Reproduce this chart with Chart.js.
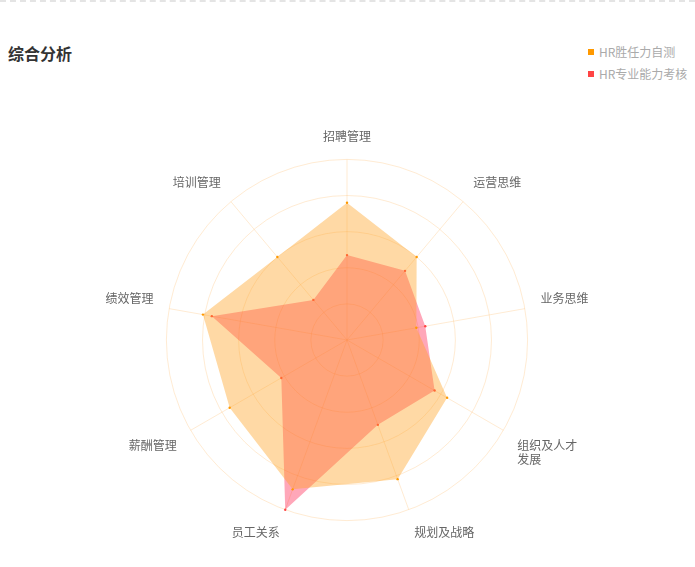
<!DOCTYPE html>
<html>
<head>
<meta charset="utf-8">
<script src="https://cdn.jsdelivr.net/npm/chart.js@4/dist/chart.umd.min.js"></script>
<style>
  body { margin: 0; background: #fff; font-family: "Noto Sans CJK SC", sans-serif; }
  .wrap { position: relative; width: 695px; height: 567px; border-top: 2px dashed #e4e4e4; box-sizing: border-box; }
  .title { position: absolute; left: 8px; top: 39px; font-size: 16px; font-weight: bold; color: #333; }
  .legend { position: absolute; left: 588px; top: 41px; font-size: 12px; color: #aaa; }
  .legend div { height: 22px; line-height: 18px; }
  .legend span { display: inline-block; width: 6px; height: 6px; margin-right: 5px; vertical-align: 2px; }
  canvas { position: absolute; left: 0; top: 0; }
</style>
</head>
<body>
<div class="wrap">
  <div class="title">综合分析</div>
  <div class="legend" id="legend"></div>
  <canvas id="radar" width="695" height="565"></canvas>
</div>
<script>
const labels = ["招聘管理", "运营思维", "业务思维", ["组织及人才", "发展"], "规划及战略", "员工关系", "薪酬管理", "绩效管理", "培训管理"];
const selfTest = [76, 60, 39, 64, 82, 88, 75, 81, 60];
const proTest = [47, 50, 44, 56, 50, 100, 42, 76, 29];
const seriesNames = ["HR胜任力自测", "HR专业能力考核"];
const markColors = ["#ff9900", "#ff4444"];

const legend = document.getElementById("legend");
seriesNames.forEach((name, i) => {
  const row = document.createElement("div");
  row.innerHTML = `<span style="background:${markColors[i]}"></span>${name}`;
  legend.appendChild(row);
});

new Chart(document.getElementById("radar"), {
  type: "radar",
  data: {
    labels: labels,
    datasets: [
      {
        label: seriesNames[0],
        data: selfTest,
        backgroundColor: "rgba(255,160,30,0.4)",
        borderWidth: 0,
        pointRadius: 1.2,
        pointBackgroundColor: markColors[0],
        pointBorderWidth: 0,
      },
      {
        label: seriesNames[1],
        data: proTest,
        backgroundColor: "rgba(255,10,60,0.36)",
        borderWidth: 0,
        pointRadius: 1.2,
        pointBackgroundColor: markColors[1],
        pointBorderWidth: 0,
      },
    ],
  },
  options: {
    responsive: false,
    animation: false,
    layout: { padding: { top: 121, bottom: 21, left: 0, right: 0 } },
    plugins: { legend: { display: false }, tooltip: { enabled: false } },
    scales: {
      r: {
        min: 0,
        max: 100,
        ticks: { stepSize: 20, display: false },
        grid: { circular: true, color: "rgba(255,190,110,0.3)" },
        angleLines: { color: "rgba(255,190,110,0.3)" },
        pointLabels: {
          color: "#666",
          padding: 16,
          font: { size: 12, family: "'Noto Sans CJK SC', sans-serif" },
        },
      },
    },
  },
});
</script>
</body>
</html>
